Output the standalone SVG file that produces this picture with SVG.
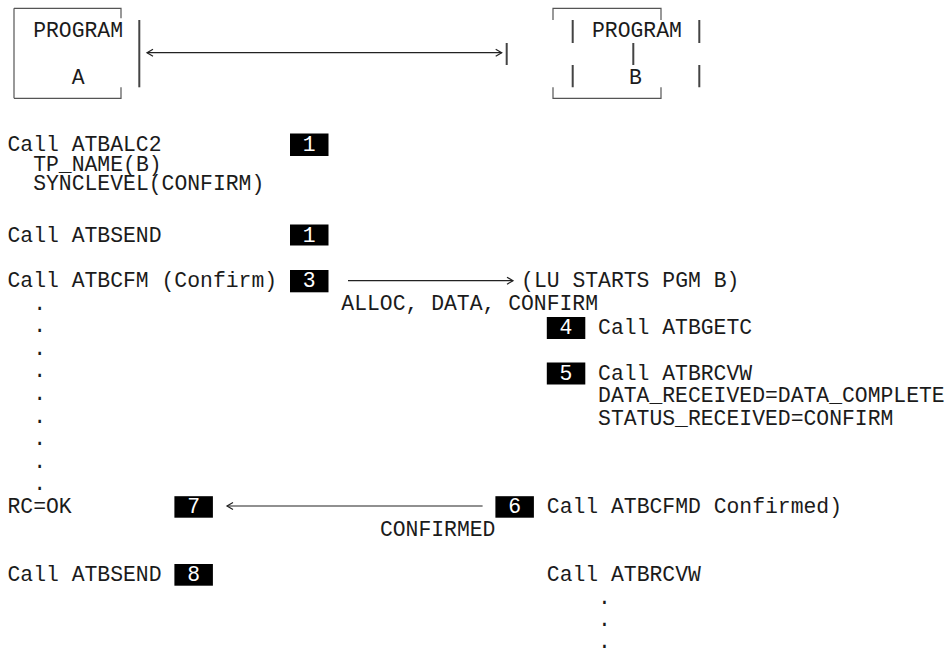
<svg xmlns="http://www.w3.org/2000/svg" width="944" height="649" viewBox="0 0 944 649">
<defs>
<style>
text{font-family:"Liberation Mono","DejaVu Sans Mono",monospace;font-size:21.4px;fill:#1b1b1b;white-space:pre}
text.n{fill:#fff}
.bx{fill:#000}
.fr{stroke:#555;stroke-width:1.2;fill:none}
.bar{stroke:#444;stroke-width:2;fill:none}
.ar{stroke:#222;stroke-width:1.2;fill:none}
</style>
<marker id="ah" markerWidth="10" markerHeight="10" refX="7" refY="5" orient="auto-start-reverse" markerUnits="userSpaceOnUse"><path d="M1,1.5 L7,5 L1,8.5" fill="none" stroke="#222" stroke-width="1.2"/></marker>
</defs>
<rect width="944" height="649" fill="#fff"/>

<g id="program-a">
<path class="fr" d="M14,8.3 V98.3 M14,8.3 H121 V18.3 M14,98.3 H121 V87.3"/>
<path class="bar" d="M139.3,20 V87.3"/>
<text x="33.2" y="37.3">PROGRAM</text>
<text x="71.7" y="83.5">A</text>
</g>

<g id="program-b">
<path class="fr" d="M553,20 V8.3 H661 V20 M553,87.3 V98.3 H661 V87.3"/>
<path class="bar" d="M506.7,43 V65 M572.7,20 V43 M572.7,65 V87.3 M699.3,20 V43 M699.3,65 V87.3 M633.3,43 V65"/>
<text x="592" y="37.3">PROGRAM</text>
<text x="629" y="83.5">B</text>
</g>

<g id="program-a-steps">
<text x="7.5" y="151.4">Call ATBALC2</text>
<text x="33.2" y="170.5">TP_NAME(B)</text>
<text x="33.2" y="190">SYNCLEVEL(CONFIRM)</text>
<text x="7.5" y="242">Call ATBSEND</text>
<text x="7.5" y="287">Call ATBCFM (Confirm)</text>
<text x="33.2" y="309.6">.</text>
<text x="33.2" y="332.2">.</text>
<text x="33.2" y="354.8">.</text>
<text x="33.2" y="377.4">.</text>
<text x="33.2" y="400">.</text>
<text x="33.2" y="422.6">.</text>
<text x="33.2" y="445.2">.</text>
<text x="33.2" y="467.8">.</text>
<text x="33.2" y="490.4">.</text>
<text x="7.5" y="513.2">RC=OK</text>
<text x="7.5" y="581">Call ATBSEND</text>
</g>

<g id="program-b-steps">
<text x="521.1" y="287">(LU STARTS PGM B)</text>
<text x="598.1" y="334">Call ATBGETC</text>
<text x="598.1" y="379.5">Call ATBRCVW</text>
<text x="598.1" y="402">DATA_RECEIVED=DATA_COMPLETE</text>
<text x="598.1" y="424.6">STATUS_RECEIVED=CONFIRM</text>
<text x="546.8" y="513.2">Call ATBCFMD Confirmed)</text>
<text x="546.8" y="581">Call ATBRCVW</text>
<text x="598.1" y="603.6">.</text>
<text x="598.1" y="626.2">.</text>
<text x="598.1" y="647.6">.</text>
</g>

<g id="markers">
<g id="m1a"><rect class="bx" x="290" y="133.5" width="38.5" height="22.5"/><text class="n" x="302.8" y="151.4">1</text></g>
<g id="m1b"><rect class="bx" x="290" y="224.5" width="38.5" height="21"/><text class="n" x="302.8" y="242">1</text></g>
<g id="m3"><rect class="bx" x="290" y="270" width="38.5" height="22.3"/><text class="n" x="302.8" y="287">3</text></g>
<g id="m4"><rect class="bx" x="546.8" y="317" width="38.5" height="22"/><text class="n" x="559.6" y="334">4</text></g>
<g id="m5"><rect class="bx" x="546.8" y="362.5" width="38.5" height="22"/><text class="n" x="559.6" y="379.5">5</text></g>
<g id="m6"><rect class="bx" x="495.4" y="496.2" width="38.5" height="21.5"/><text class="n" x="508.2" y="513.2">6</text></g>
<g id="m7"><rect class="bx" x="174.4" y="496.2" width="38.5" height="21.5"/><text class="n" x="187.2" y="513.2">7</text></g>
<g id="m8"><rect class="bx" x="174.4" y="564" width="38.5" height="21.7"/><text class="n" x="187.2" y="581">8</text></g>
</g>

<g id="connectors">
<path class="ar" d="M147,52.7 H501.7" marker-start="url(#ah)" marker-end="url(#ah)"/>
<path class="ar" d="M348,280.7 H513" marker-end="url(#ah)"/>
<text x="341.3" y="309.6">ALLOC, DATA, CONFIRM</text>
<path class="ar" d="M227,506 H482.6" marker-start="url(#ah)"/>
<text x="379.9" y="535.8">CONFIRMED</text>
</g>
</svg>
